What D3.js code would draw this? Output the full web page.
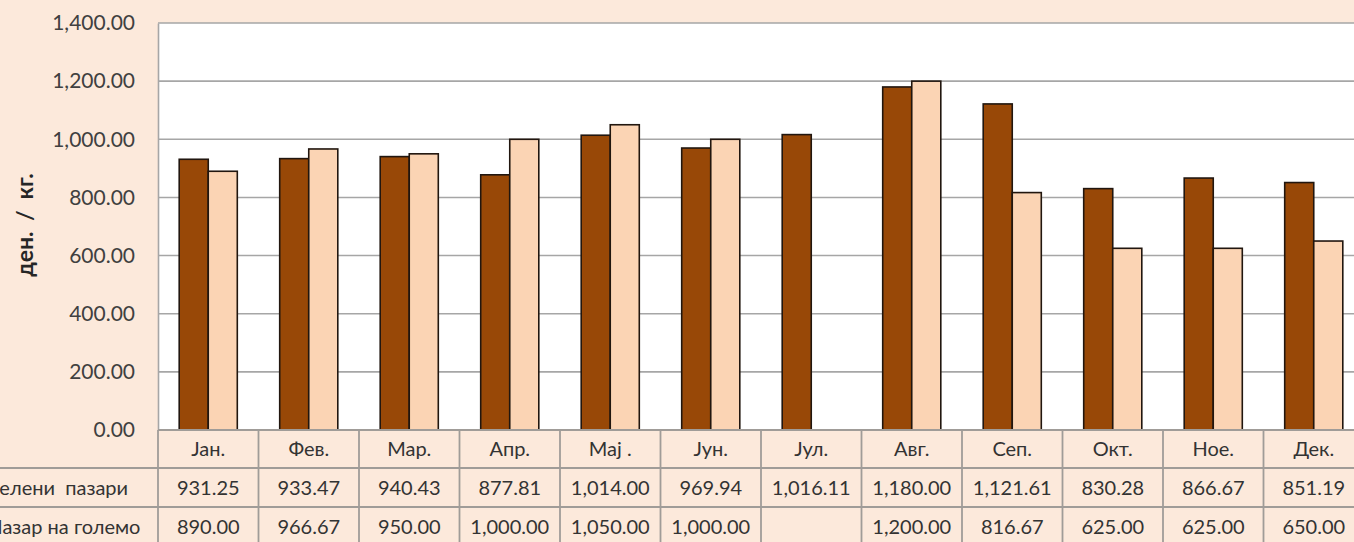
<!DOCTYPE html>
<html><head><meta charset="utf-8">
<script src="https://cdn.jsdelivr.net/npm/d3@7"></script>
<style>
html,body{margin:0;padding:0;background:#FCE9DB;overflow:hidden;}
text{font-family:Lato,"Open Sans",sans-serif;}
</style></head>
<body><svg id="c" width="1354" height="542"></svg>
<script>
const months = ["Јан.","Фев.","Мар.","Апр.","Мај .","Јун.","Јул.","Авг.","Сеп.","Окт.","Ное.","Дек."];
const seriesNames = ["Зелени  пазари","Пазар на големо"];
const greenMarkets = [931.25,933.47,940.43,877.81,1014.00,969.94,1016.11,1180.00,1121.61,830.28,866.67,851.19];
const wholesale = [890.00,966.67,950.00,1000.00,1050.00,1000.00,null,1200.00,816.67,625.00,625.00,650.00];
const yTicks = [0,200,400,600,800,1000,1200,1400];
const yTitle = "ден. / кг.";
const colors = ["#984807","#FBD4B4"];

const W=1354,H=542;
const L=158, T=23, B=430, bandW=100.5;
const svg=d3.select("#c");
svg.append("rect").attr("width",W).attr("height",H).attr("fill","#FCE9DB");

const x=d3.scaleBand().domain(months).range([L,L+bandW*months.length]).padding(0);
const y=d3.scaleLinear().domain([0,1400]).range([B,T]);
const x1=d3.scaleBand().domain([0,1]).range([0,x.bandwidth()]).paddingInner(0).paddingOuter(0.73);
const fmt=d3.format(",.2f");
const grid="#A6A6A6";

// plot area
svg.append("rect").attr("x",L).attr("y",T).attr("width",x.range()[1]-L).attr("height",B-T).attr("fill","#fff");

// gridlines
svg.append("g").selectAll("line").data(yTicks).join("line")
  .attr("x1",L).attr("x2",x.range()[1]).attr("y1",d=>y(d)).attr("y2",d=>y(d))
  .attr("stroke",grid).attr("stroke-width",1.6);

// y axis
const yAxis=svg.append("g").attr("transform",`translate(${L},0)`)
  .call(d3.axisLeft(y).tickValues(yTicks).tickFormat(fmt).tickSize(0).tickPadding(23));
yAxis.select(".domain").attr("stroke",grid).attr("stroke-width",1.6);
yAxis.selectAll("text").attr("font-size",21).attr("fill","#404040").attr("font-family","Lato");

// y title
svg.append("text").attr("transform","translate(33,225) rotate(-90)")
  .attr("text-anchor","middle").attr("font-size",23).attr("font-weight","bold")
  .attr("word-spacing",5).attr("fill","#262626").text(yTitle);

// bars
const data=[greenMarkets,wholesale];
const bars=svg.append("g");
data.forEach((arr,si)=>{
  bars.append("g").selectAll("rect").data(arr.map((v,i)=>({v,m:months[i]})).filter(d=>d.v!=null))
    .join("rect")
    .attr("x",d=>x(d.m)+x1(si)).attr("width",x1.bandwidth())
    .attr("y",d=>y(d.v)).attr("height",d=>B-y(d.v))
    .attr("fill",colors[si]).attr("stroke","#21160f").attr("stroke-width",1.6);
});

// data table
const rowY=[B,468,507,546];
const tbl=svg.append("g");
const lc="#A09C98";
tbl.append("line").attr("x1",L).attr("x2",x.range()[1]).attr("y1",B).attr("y2",B).attr("stroke",lc).attr("stroke-width",1.8);
[468,507].forEach(yy=>tbl.append("line").attr("x1",0).attr("x2",x.range()[1]).attr("y1",yy).attr("y2",yy).attr("stroke",lc).attr("stroke-width",1.8));
tbl.selectAll("line.v").data(months.concat(["end"])).join("line").attr("class","v")
  .attr("x1",(d,i)=>L+i*x.step()).attr("x2",(d,i)=>L+i*x.step())
  .attr("y1",B).attr("y2",H).attr("stroke",lc).attr("stroke-width",1.8);
tbl.selectAll("text.h").data(months).join("text").attr("class","h")
  .attr("x",d=>x(d)+x.bandwidth()/2).attr("y",(rowY[0]+rowY[1])/2).attr("dy","0.36em")
  .attr("text-anchor","middle").attr("font-size",20).attr("fill","#333").text(d=>d);
data.forEach((arr,si)=>{
  const cy=(rowY[si+1]+rowY[si+2])/2;
  tbl.append("text").attr("x",-12).attr("y",cy).attr("dy","0.36em")
    .attr("font-size",20).attr("fill","#333").attr("xml:space","preserve").text(seriesNames[si]);
  tbl.append("g").selectAll("text").data(arr).join("text")
    .attr("x",(d,i)=>x(months[i])+x.bandwidth()/2).attr("y",cy).attr("dy","0.36em")
    .attr("text-anchor","middle").attr("font-size",20).attr("fill","#333")
    .text(d=>d==null?"":fmt(d));
});
</script></body></html>
